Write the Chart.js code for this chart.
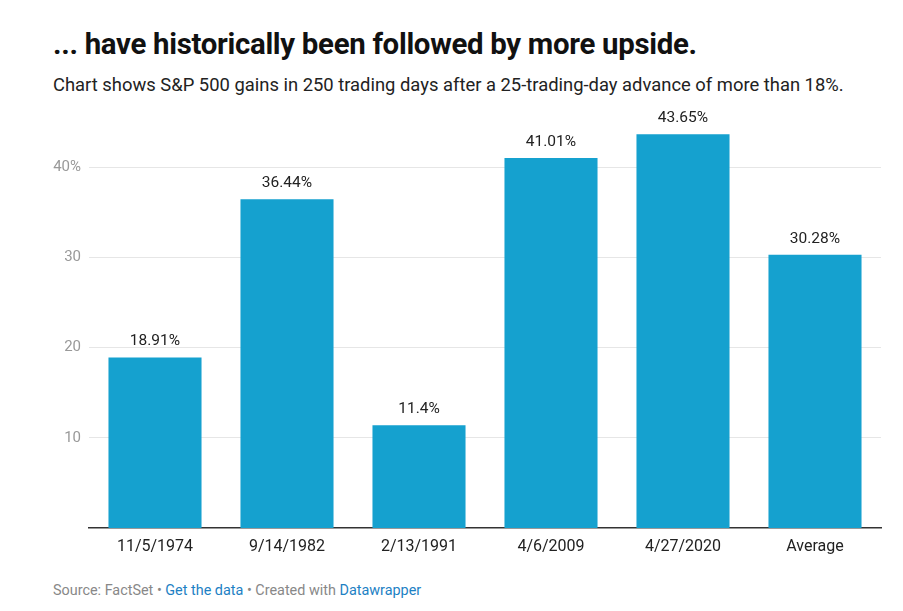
<!DOCTYPE html>
<html>
<head>
<meta charset="utf-8">
<script src="https://cdn.jsdelivr.net/npm/chart.js@4"></script>
<style>
  body { margin: 0; background: #fff; font-family: Roboto, "Noto Sans", sans-serif; }
  .title { position: absolute; left: 53px; top: 27px; font-size: 29.4px; font-weight: 700; color: #111; letter-spacing: -0.3px; }
  .sub { position: absolute; left: 53px; top: 74px; font-size: 18.4px; color: #222; }
  .foot { position: absolute; left: 53px; top: 582px; font-size: 14.4px; color: #888; }
  .foot a { color: #1d81c4; text-decoration: none; }
  #wrap { position: absolute; left: 0; top: 101px; width: 903px; height: 460px; }
</style>
</head>
<body>
<div class="title">... have historically been followed by more upside.</div>
<div class="sub">Chart shows S&amp;P 500 gains in 250 trading days after a 25-trading-day advance of more than 18%.</div>
<div id="wrap"><canvas id="chart"></canvas></div>
<div class="foot">Source: FactSet • <a>Get the data</a> • Created with <a>Datawrapper</a></div>
<script>
// chart data
const categories = ['11/5/1974', '9/14/1982', '2/13/1991', '4/6/2009', '4/27/2020', 'Average'];
const gains = [18.91, 36.44, 11.4, 41.01, 43.65, 30.28];
const gainLabels = ['18.91%', '36.44%', '11.4%', '41.01%', '43.65%', '30.28%'];
const yTicks = [10, 20, 30, 40];

// draws the value above each bar
const valueLabels = {
    id: 'valueLabels',
    afterDatasetsDraw(chart) {
        const ctx = chart.ctx;
        const meta = chart.getDatasetMeta(0);
        ctx.save();
        ctx.font = '15.5px Roboto';
        ctx.fillStyle = '#222';
        ctx.textAlign = 'center';
        ctx.textBaseline = 'middle';
        meta.data.forEach((bar, i) => {
            ctx.fillText(gainLabels[i], bar.x, bar.y - 16);
        });
        ctx.restore();
    }
};

new Chart(document.getElementById('chart'), {
    type: 'bar',
    data: {
        labels: categories,
        datasets: [{
            data: gains,
            backgroundColor: '#15a1cf',
            categoryPercentage: 1,
            barPercentage: 0.705
        }]
    },
    plugins: [valueLabels],
    options: {
        responsive: true,
        maintainAspectRatio: false,
        animation: false,
        layout: { padding: { left: 0, right: 22, top: 9, bottom: 0 } },
        plugins: { legend: { display: false }, tooltip: { enabled: false } },
        scales: {
            x: {
                grid: { display: false },
                border: { color: '#333', width: 1.5 },
                ticks: { color: '#222', font: { family: 'Roboto', size: 16 }, padding: 1 },
                afterFit: s => { s.height = 33; }
            },
            y: {
                min: 0,
                max: 46.33,
                afterBuildTicks: s => { s.ticks = yTicks.map(v => ({ value: v })); },
                grid: { color: '#e6e6e6', drawTicks: false },
                border: { display: false },
                ticks: {
                    color: '#999',
                    font: { family: 'Roboto', size: 15 },
                    padding: 8,
                    callback: v => v === 40 ? '40%' : v
                },
                afterFit: s => { s.width = 89; s.paddingTop = 0; s.paddingBottom = 0; }
            }
        }
    }
});
</script>
</body>
</html>
